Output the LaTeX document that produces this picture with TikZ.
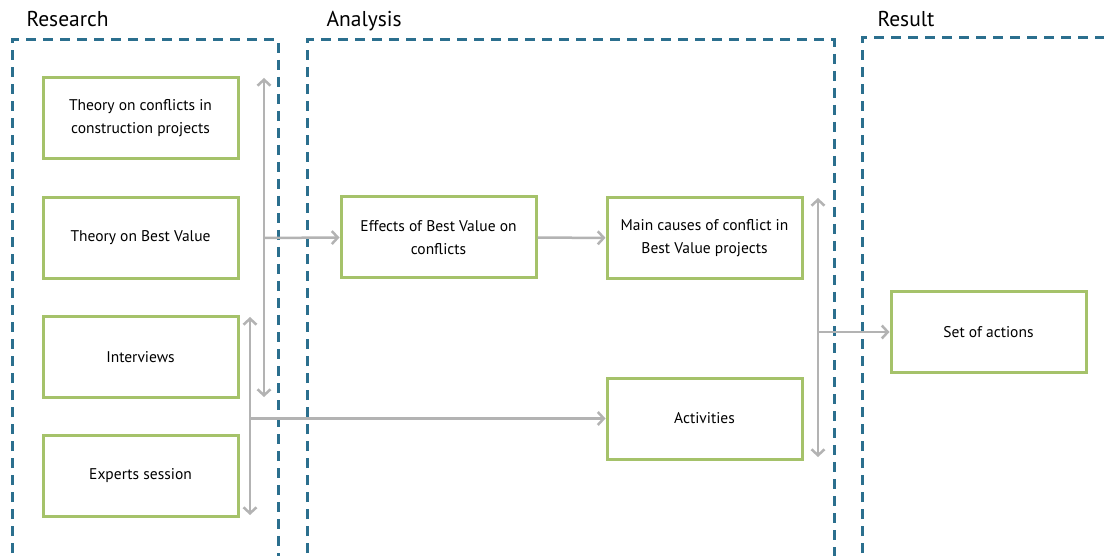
\documentclass[tikz,border=0pt]{standalone}
\usepackage{fontspec}
\setmainfont{PT Sans}
\usetikzlibrary{arrows.meta}
\definecolor{phaseblue}{HTML}{2B6F8E}
\definecolor{boxgreen}{HTML}{A5C26A}
\definecolor{linkgray}{HTML}{B3B3B3}
\tikzset{
  phase/.style={draw=phaseblue, line width=3pt, dash pattern=on 10pt off 7pt},
  phasetitle/.style={anchor=base west, font=\fontsize{21.5}{24}\selectfont},
  stepbox/.style={draw=boxgreen, line width=3pt, fill=white, minimum width=195pt,
    minimum height=81pt, align=center, inner sep=2pt, font=\fontsize{15.5}{23}\selectfont},
  link/.style={draw=linkgray, line width=2.5pt, -{Straight Barb[length=6pt,width=13pt]}},
  biglink/.style={draw=linkgray, line width=2.5pt, {Straight Barb[length=6pt,width=13pt]}-{Straight Barb[length=6pt,width=13pt]}},
}
\begin{document}
\begin{tikzpicture}[x=1pt, y=-1pt]
\useasboundingbox (0,0) rectangle (1104,556);
\clip (0,0) rectangle (1104,556);
\fill[white] (0,0) rectangle (1104,556);

% phase frames, open at the bottom
\draw[phase] (12,570) -- (12,40) -- (278,40) -- (278,570);
\draw[phase] (307,570) -- (307,40) -- (834,40) -- (834,570);
\draw[phase] (862,570) -- (862,38) -- (1115,38);
\node[phasetitle] (tres) at (23,27) {Research};
\node[phasetitle] (tana) at (323,27) {Analysis};
\node[phasetitle] (tout) at (874,27) {Result};

% research inputs
\node[stepbox] (conf) at (140.5,118.5) {Theory on conflicts in\\construction projects};
\node[stepbox] (bv)   at (140.5,238)   {Theory on Best Value};
\node[stepbox] (intv) at (140.5,357)   {Interviews};
\node[stepbox] (exp)  at (140.5,476)   {Experts session};

% analysis steps
\node[stepbox] (eff)  at (438.5,237.5) {Effects of Best Value on\\conflicts};
\node[stepbox] (main) at (704.5,238)   {Main causes of conflict in\\Best Value projects};
\node[stepbox] (act)  at (704.5,418.5) {Activities};

% result
\node[stepbox] (set)  at (988.5,332)   {Set of actions};

% theory bracket and its link to the analysis
\coordinate (ta) at (264,78);
\coordinate (tb) at (264,397);
\coordinate (tm) at (264,238);
\draw[biglink] (ta) -- (tb);
\draw[link] (tm) -- (eff.west);
\draw[link] (eff) -- (main);

% empirical bracket and its link to the activities
\coordinate (ea) at (250,317);
\coordinate (eb) at (250,515);
\coordinate (em) at (250,418.5);
\draw[biglink] (ea) -- (eb);
\draw[link] (em) -- (act.west);

% analysis bracket and its link to the result
\coordinate (aa) at (818,198);
\coordinate (ab) at (818,457);
\coordinate (am) at (818,332);
\draw[biglink] (aa) -- (ab);
\draw[link] (am) -- (set.west);
\end{tikzpicture}
\end{document}
